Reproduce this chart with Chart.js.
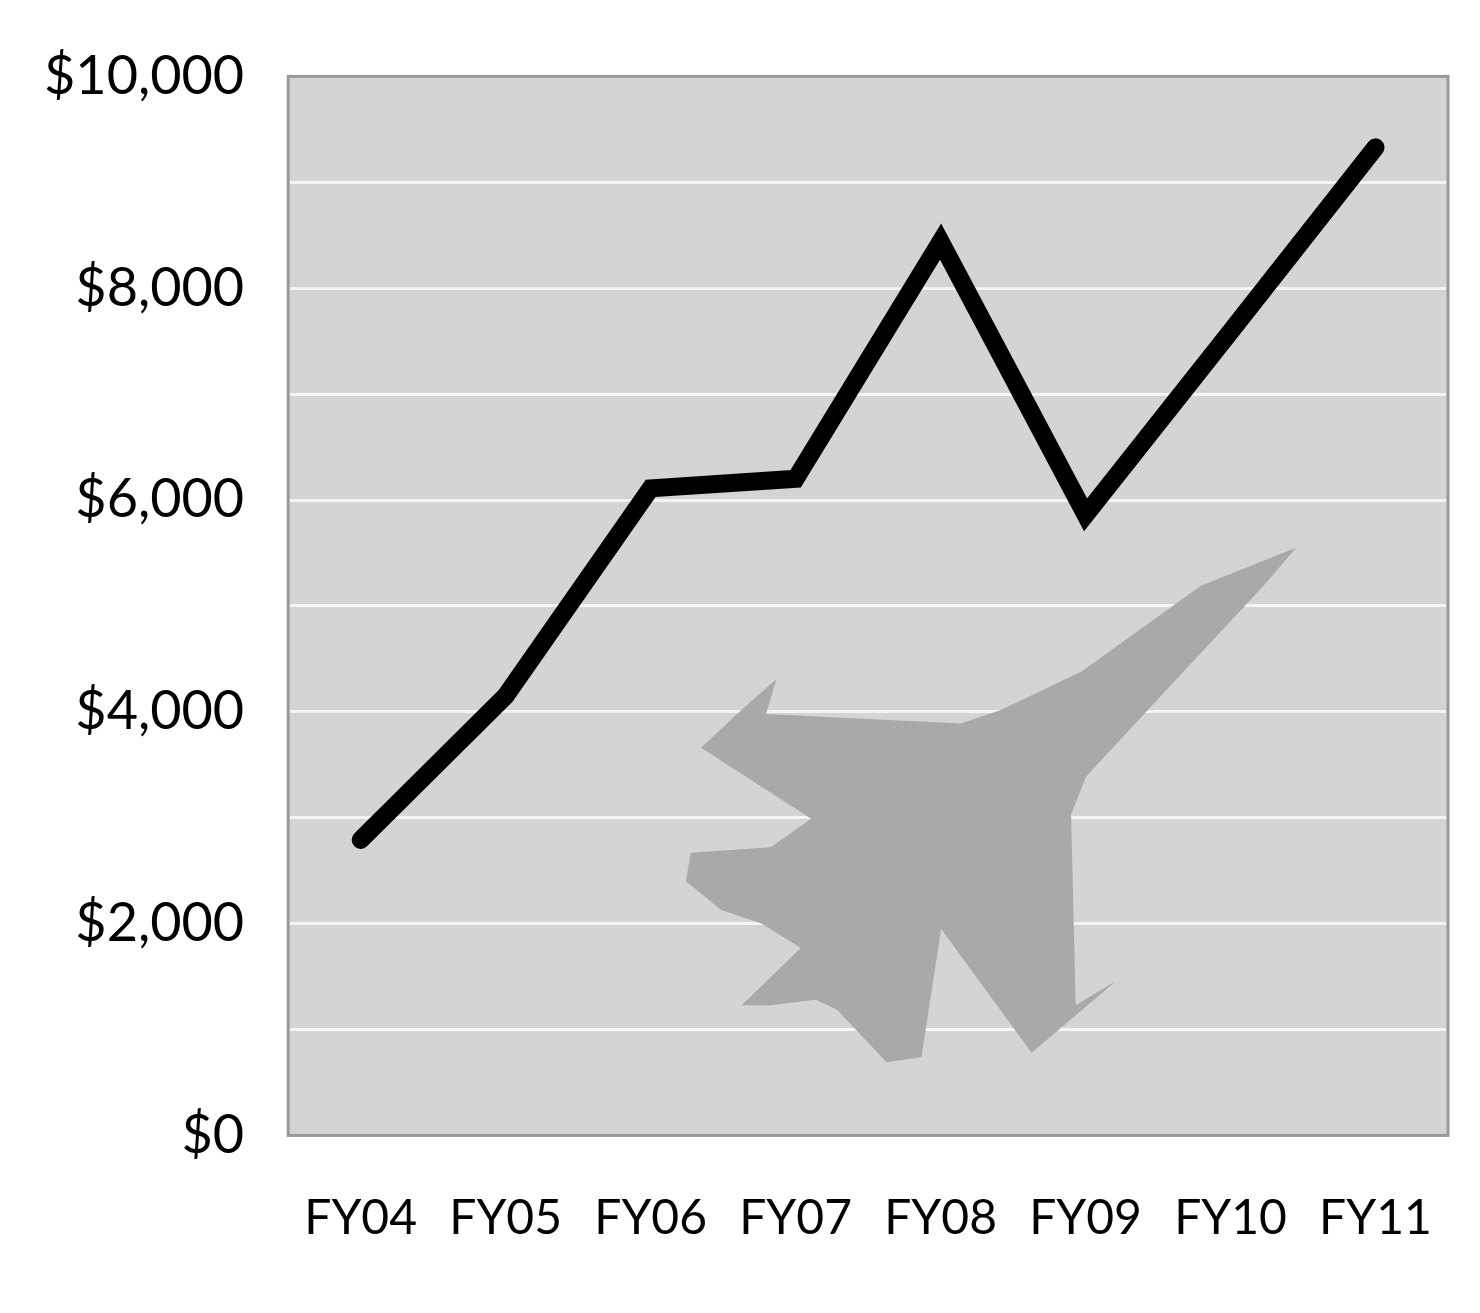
<!DOCTYPE html>
<html lang="en">
<head>
<meta charset="UTF-8">
<title>FY spending</title>
<script src="https://cdn.jsdelivr.net/npm/chart.js"></script>
<style>
  html, body { margin: 0; padding: 0; background: #fff; }
  #wrap { width: 1480px; height: 1313px; }
</style>
</head>
<body>
<div id="wrap"><canvas id="chart"></canvas></div>
<script>
// Data
const categories = ['FY04', 'FY05', 'FY06', 'FY07', 'FY08', 'FY09', 'FY10', 'FY11'];
const values = [2790, 4150, 6110, 6200, 8440, 5860, 7590, 9330];

// Rough jet silhouette, as fractions of the plot area (decoration only)
const planeShape = [
  [0.869, 0.445], [0.841, 0.481], [0.772, 0.562], [0.688, 0.661], [0.675, 0.697],
  [0.679, 0.877], [0.714, 0.854], [0.641, 0.922], [0.563, 0.805], [0.546, 0.926],
  [0.516, 0.931], [0.473, 0.881], [0.455, 0.872], [0.416, 0.877], [0.391, 0.877],
  [0.442, 0.823], [0.408, 0.800], [0.373, 0.787], [0.343, 0.760], [0.347, 0.733],
  [0.416, 0.728], [0.451, 0.701], [0.356, 0.634], [0.391, 0.598], [0.421, 0.569],
  [0.412, 0.602], [0.580, 0.611], [0.615, 0.598], [0.684, 0.562], [0.787, 0.481]
];

const plotBackground = {
  id: 'plotBackground',
  beforeDraw(chart) {
    const { ctx, chartArea: a } = chart;
    ctx.save();
    ctx.fillStyle = '#d4d4d6';
    ctx.fillRect(a.left, a.top, a.width, a.height);
    ctx.restore();
  },
  beforeDatasetsDraw(chart) {
    const { ctx, chartArea: a } = chart;
    ctx.save();
    ctx.fillStyle = '#a9a9ab';
    ctx.beginPath();
    planeShape.forEach(([fx, fy], i) => {
      const x = a.left + fx * a.width, y = a.top + fy * a.height;
      if (i === 0) ctx.moveTo(x, y); else ctx.lineTo(x, y);
    });
    ctx.closePath();
    ctx.fill();
    ctx.restore();
  },
  afterDraw(chart) {
    const { ctx, chartArea: a } = chart;
    ctx.save();
    ctx.strokeStyle = '#9a9a9a';
    ctx.lineWidth = 3;
    ctx.strokeRect(a.left, a.top, a.width, a.height);
    ctx.restore();
  }
};

new Chart(document.getElementById('chart'), {
  type: 'line',
  data: {
    labels: categories,
    datasets: [{
      data: values,
      borderColor: '#000',
      borderWidth: 18,
      borderCapStyle: 'round',
      borderJoinStyle: 'miter',
      pointRadius: 0,
      tension: 0
    }]
  },
  options: {
    responsive: true,
    maintainAspectRatio: false,
    animation: false,
    layout: { padding: { top: 20, right: 32, left: 0, bottom: 20 } },
    plugins: { legend: { display: false }, tooltip: { enabled: false } },
    scales: {
      x: {
        offset: true,
        grid: { display: false },
        border: { display: false },
        ticks: {
          color: '#000', padding: 46, maxRotation: 0, autoSkip: false,
          font: { family: 'Lato', size: 48 }
        }
      },
      y: {
        min: 0, max: 10000,
        grid: { color: '#f4f4f4', lineWidth: 3, drawTicks: false },
        border: { display: false },
        ticks: {
          stepSize: 1000, color: '#000', padding: 44,
          font: { family: 'Lato', size: 54 },
          callback: v => v % 2000 === 0 ? '$' + v.toLocaleString('en-US') : ''
        }
      }
    }
  },
  plugins: [plotBackground]
});
</script>
</body>
</html>
